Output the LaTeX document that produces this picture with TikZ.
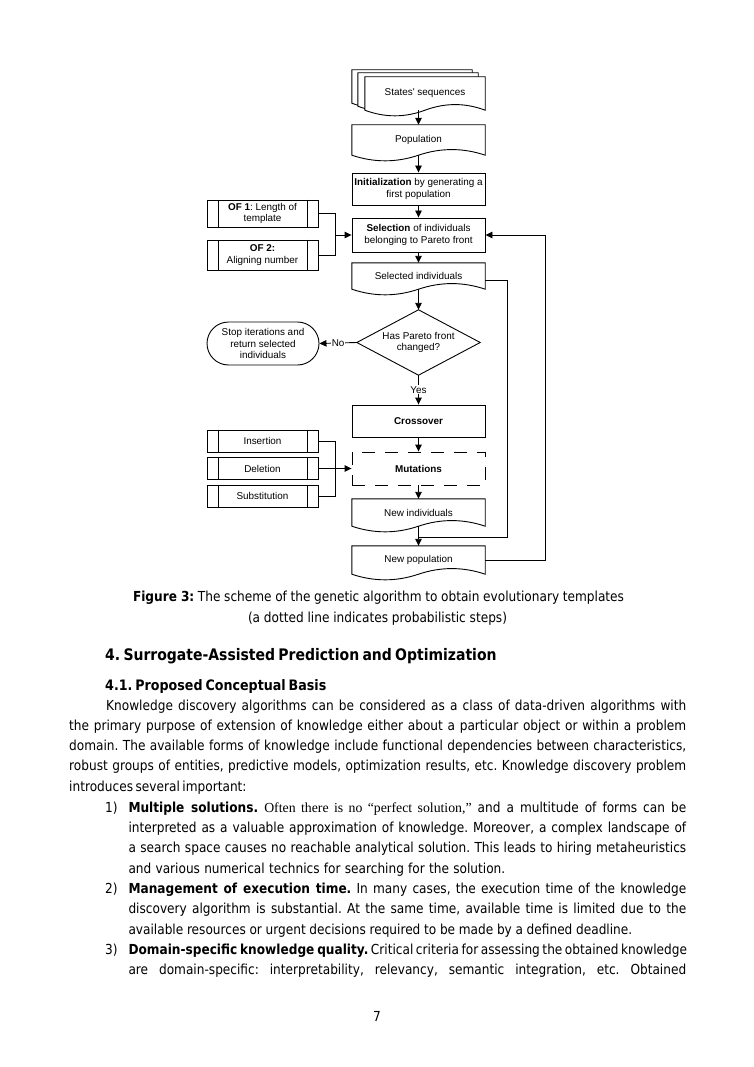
\documentclass[tikz,border=0pt]{standalone}
\usepackage{fontspec}
\setmainfont{DejaVu Sans}[FakeStretch=0.88]
\newfontfamily\diafont{Liberation Sans}
\newfontfamily\tnrfont{Liberation Serif}
\usetikzlibrary{arrows.meta,calc,backgrounds}
\frenchspacing

\newcommand\bodysize{\fontsize{13.8}{16}\selectfont}
\newcommand\tl[4]{\node[anchor=base west,inner sep=0pt,font=\bodysize] (#1) at (#2) {\makebox[#3pt][s]{#4}};}
\newcommand\wdoc[4][]{%
  \draw[ln,#1] ($(#2.north west)+(#3,#4)$) -- ($(#2.north east)+(#3,#4)$) -- ($(#2.south east)+(#3,#4)$)
   .. controls ($(#2.south east)!0.333!(#2.south)+(#3,#4)+(0,-7.5)$) and ($(#2.south east)!0.667!(#2.south)+(#3,#4)+(0,-7.5)$) .. ($(#2.south)+(#3,#4)$)
   .. controls ($(#2.south)!0.333!(#2.south west)+(#3,#4)+(0,7.5)$) and ($(#2.south)!0.667!(#2.south west)+(#3,#4)+(0,7.5)$) .. ($(#2.south west)+(#3,#4)$) -- cycle;}
\newcommand\sbars[1]{\draw[ln] ($(#1.north west)+(12,0)$) -- ($(#1.south west)+(12,0)$) ($(#1.north east)+(-11,0)$) -- ($(#1.south east)+(-11,0)$);}

\tikzset{
  ln/.style={line width=0.9pt, draw=black},
  arr/.style={ln, -{Triangle[length=7pt,width=6.5pt]}},
  dtext/.style={font=\diafont\fontsize{9.9}{11.8}\selectfont, align=center, inner sep=0pt, text=black},
  dnode/.style={dtext, rectangle, minimum width=133pt},
  pbox/.style={dtext, rectangle, ln, minimum width=133pt},
  sbox/.style={dtext, rectangle, ln, minimum width=111pt},
  term/.style={dtext, rectangle, ln, rounded corners=21.5pt, minimum width=112pt, minimum height=43pt},
  lbl/.style={dtext, fill=white, inner sep=1pt},
  dashbox/.style={dash pattern=on 13pt off 10pt}
}

\begin{document}
\begin{tikzpicture}[x=1pt,y=-1pt]
\useasboundingbox (0,0) rectangle (753,1067);

% ---------- flowchart nodes ----------
\node[dnode, minimum width=120pt, minimum height=33pt] (states) at (425,93.5) {States' sequences};
\node[dnode, minimum height=30pt] (pop) at (418.5,140) {Population};
\node[pbox, minimum height=32pt] (init) at (418.5,189) {\textbf{Initialization} by generating a\\first population};
\node[pbox, minimum height=34pt] (sel) at (418.5,235) {\textbf{Selection} of individuals\\belonging to Pareto front};
\node[dnode, minimum height=26pt] (selind) at (418.5,276) {Selected individuals};
\node[dnode, minimum height=65pt, minimum width=123pt] (dia) at (418.5,342.5) {Has Pareto front\\changed?};
\node[term] (stop) at (263,343.5) {Stop iterations and\\return selected\\individuals};
\node[pbox, minimum height=32pt] (cross) at (418.5,421) {\textbf{Crossover}};
\node[pbox, dashbox, minimum height=33pt] (mut) at (418.5,468.5) {\textbf{Mutations}};
\node[dnode, minimum height=27pt] (newind) at (418.5,512.5) {New individuals};
\node[dnode, minimum height=28pt] (newpop) at (418.5,560) {New population};
\node[sbox, minimum height=27pt] (of1) at (262.5,213.5) {\textbf{OF 1}: Length of\\template};
\node[sbox, minimum height=30pt] (of2) at (262.5,255) {\textbf{OF 2:}\\Aligning number};
\node[sbox, minimum height=22pt] (ins) at (262.5,441) {Insertion};
\node[sbox, minimum height=22pt] (del) at (262.5,468.5) {Deletion};
\node[sbox, minimum height=22pt] (sub) at (262.5,496) {Substitution};

\begin{pgfonlayer}{background}
  \fill[white] (0,0) rectangle (753,1067);
  \wdoc[fill=white]{states}{-13}{-7}
  \wdoc[fill=white]{states}{-7}{-4}
  \wdoc[fill=white]{states}{0}{0}
\end{pgfonlayer}

% outlines
\wdoc{pop}{0}{0}
\wdoc{selind}{0}{0}
\wdoc{newind}{0}{0}
\wdoc{newpop}{0}{0}
\draw[ln] (dia.north) -- (dia.east) -- (dia.south) -- (dia.west) -- cycle;
\sbars{of1}\sbars{of2}\sbars{ins}\sbars{del}\sbars{sub}

% connectors
\draw[arr] (states.south -| pop.north) -- (pop.north);
\draw[arr] (pop.south) -- (init.north);
\draw[arr] (init.south) -- (sel.north);
\draw[arr] (sel.south) -- (selind.north);
\draw[arr] (selind.south) -- (dia.north);
\draw[arr] (dia.west) -- node[lbl] {No} (stop.east);
\draw[arr] (dia.south) -- node[lbl] {Yes} (cross.north);
\draw[arr] (cross.south) -- (mut.north);
\draw[arr] (mut.south) -- (newind.north);
\draw[arr] (newind.south) -- (newpop.north);
\coordinate (jof) at (335,235);
\draw[ln] (of1.east) -| (jof);
\draw[ln] (of2.east) -| (jof);
\draw[arr] (jof) -- (sel.west);
\coordinate (jmu) at (335,468.5);
\draw[ln] (ins.east) -| (jmu);
\draw[ln] (sub.east) -| (jmu);
\draw[arr] (del.east) -- (mut.west);
\coordinate (fbk) at (545,400);
\draw[arr] (newpop.east) -- (newpop.east -| fbk) -- (sel.east -| fbk) -- (sel.east);
\coordinate (lp) at (507,400);
\coordinate (mrg) at (418.5,537);
\draw[ln] ($(selind.east)+(0,4)$) -- ($(selind.east -| lp)+(0,4)$) -- (mrg -| lp) -- (mrg);

% ---------- text ----------
\node[anchor=base, inner sep=0pt, font=\bodysize] (cap1) at (378.5,601.7) {\makebox[491pt][s]{\textbf{Figure 3:} The scheme of the genetic algorithm to obtain evolutionary templates}};
\node[anchor=base, inner sep=0pt, font=\bodysize] (cap2) at (377.5,622) {\makebox[259pt][s]{(a dotted line indicates probabilistic steps)}};
\node[anchor=base west, inner sep=0pt, font=\bfseries\fontsize{15.9}{19}\selectfont] (h4) at (105,660.7) {\makebox[387pt][s]{4. Surrogate-Assisted Prediction and Optimization}};
\node[anchor=base west, inner sep=0pt, font=\bfseries\fontsize{14.4}{17}\selectfont] (h41) at (105,690) {\makebox[205pt][s]{4.1. Proposed Conceptual Basis}};

\tl{p1}{106,710}{580}{Knowledge discovery algorithms can be considered as a class of data-driven algorithms with}
\tl{p2}{69,730.3}{617}{the primary purpose of extension of knowledge either about a particular object or within a problem}
\tl{p3}{69,750.6}{617}{domain. The available forms of knowledge include functional dependencies between characteristics,}
\tl{p4}{69,770.9}{617}{robust groups of entities, predictive models, optimization results, etc. Knowledge discovery problem}
\tl{p5}{69,791.2}{177}{introduces several important:}

\node[anchor=base west, inner sep=0pt, font=\bodysize] (n1) at (105,812.3) {1)};
\tl{l1}{128.3,812.3}{557.7}{\textbf{Multiple solutions.} {\tnrfont Often there is no “perfect solution,”} and a multitude of forms can be}
\tl{l2}{128.3,832.6}{557.7}{interpreted as a valuable approximation of knowledge. Moreover, a complex landscape of}
\tl{l3}{128.3,852.9}{557.7}{a search space causes no reachable analytical solution. This leads to hiring metaheuristics}
\tl{l4}{128.3,873.2}{376.7}{and various numerical technics for searching for the solution.}
\node[anchor=base west, inner sep=0pt, font=\bodysize] (n2) at (105,893.5) {2)};
\tl{l5}{128.3,893.5}{557.7}{\textbf{Management of execution time.} In many cases, the execution time of the knowledge}
\tl{l6}{128.3,913.8}{557.7}{discovery algorithm is substantial. At the same time, available time is limited due to the}
\tl{l7}{128.3,934.1}{503.7}{available resources or urgent decisions required to be made by a defined deadline.}
\node[anchor=base west, inner sep=0pt, font=\bodysize] (n3) at (105,954.4) {3)};
\tl{l8}{128.3,954.4}{557.7}{\textbf{Domain-specific knowledge quality.} Critical criteria for assessing the obtained knowledge}
\tl{l9}{128.3,974.7}{557.7}{are domain-specific: interpretability, relevancy, semantic integration, etc. Obtained}

\node[anchor=base, inner sep=0pt, font=\bodysize] (pg) at (377,1021) {7};
\end{tikzpicture}
\end{document}
